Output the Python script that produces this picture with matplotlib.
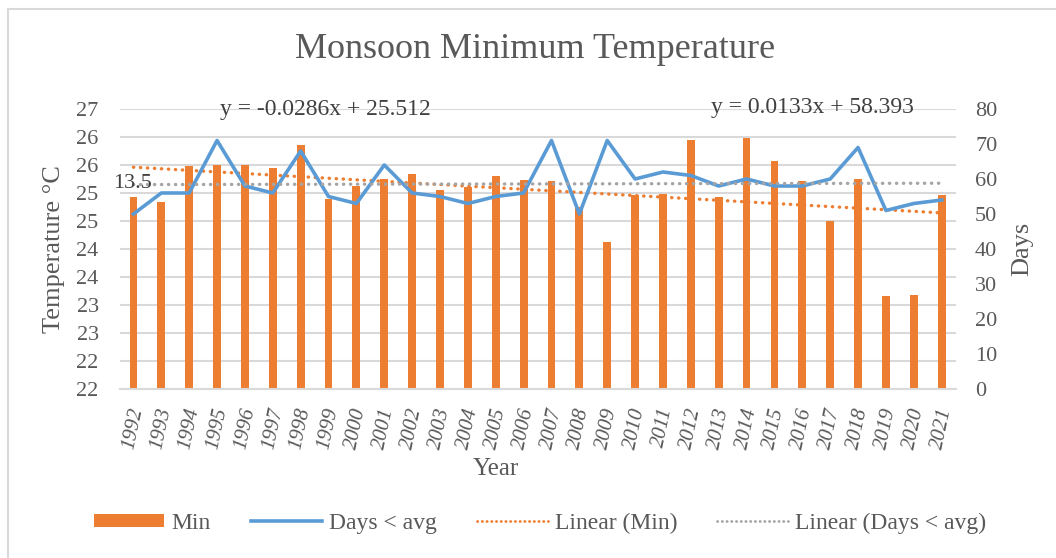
import numpy as np
import matplotlib
matplotlib.use("Agg")
import matplotlib.pyplot as plt
from matplotlib.patches import Patch, Rectangle
from matplotlib.lines import Line2D

plt.rcParams['font.family'] = ['Liberation Serif', 'DejaVu Serif']

# data
years = [str(y) for y in range(1992, 2022)]
min_temp = [25.43, 25.34, 25.98, 26.00, 26.00, 25.94, 26.35, 25.39, 25.63, 25.75,
            25.84, 25.55, 25.61, 25.80, 25.73, 25.71, 25.25, 24.63, 25.46, 25.49,
            26.44, 25.43, 26.49, 26.08, 25.71, 25.00, 25.75, 23.66, 23.68, 25.46]
days_below = [50, 56, 56, 71, 58, 56, 68, 55, 53, 64, 56, 55, 53, 55, 56,
              71, 50, 71, 60, 62, 61, 58, 60, 58, 58, 60, 69, 51, 53, 54]
left_ticks = [22, 22.5, 23, 23.5, 24, 24.5, 25, 25.5, 26, 26.5, 27]
left_tick_labels = ['22', '22', '23', '23', '24', '24', '25', '25', '26', '26', '27']
right_ticks = [0, 10, 20, 30, 40, 50, 60, 70, 80]
eq_min = 'y = -0.0286x + 25.512'
eq_days = 'y = 0.0133x + 58.393'
data_label = '13.5'

orange = '#ed7d31'
blue = '#5b9bd5'
gray = '#a5a5a5'
txt = '#595959'
grid = '#d9d9d9'

W, H = 1056, 558
fig = plt.figure(figsize=(W / 100, H / 100), dpi=100)
fig.patches.append(Rectangle((8 / W, -0.1), 1.2, 1 - 9 / H + 0.1, transform=fig.transFigure,
                             fill=False, edgecolor=grid, linewidth=1.5))

x0, x1, y0, y1 = 119.5, 955.6, 109, 389
ax = fig.add_axes([x0 / W, 1 - y1 / H, (x1 - x0) / W, (y1 - y0) / H])
x = np.arange(len(years))

ax.bar(x, min_temp, width=0.28, color=orange, zorder=2)
fit1 = np.polyfit(x, min_temp, 1)
ax.plot(x, np.polyval(fit1, x), color=orange, linewidth=2.4,
        linestyle=(0, (0.1, 2.0)), dash_capstyle='round', zorder=3)
ax.set_ylim(22, 27)
ax.set_xlim(-0.5, len(years) - 0.5)
ax.set_yticks(left_ticks)
ax.set_yticklabels(left_tick_labels)
ax.yaxis.grid(True, color=grid, linewidth=1.5)
ax.set_axisbelow(True)
for s in ['top', 'left', 'right']:
    ax.spines[s].set_visible(False)
ax.spines['bottom'].set_color(grid)
ax.spines['bottom'].set_linewidth(1.5)
ax.tick_params(axis='y', length=0, pad=15, labelsize=16, labelcolor=txt)
ax.set_xticks(x)
ax.set_xticklabels(years, rotation=78, style='italic', ha='center', va='top')
ax.tick_params(axis='x', length=0, pad=12, labelsize=15, labelcolor=txt)
ax.set_ylabel('Temperature °C', fontsize=19, color=txt, labelpad=8)

ax2 = ax.twinx()
ax2.plot(x, days_below, color=blue, linewidth=2.6, zorder=3)
fit2 = np.polyfit(x, days_below, 1)
ax2.plot(x, np.polyval(fit2, x), color=gray, linewidth=2.4,
         linestyle=(0, (0.1, 2.0)), dash_capstyle='round', zorder=4)
ax2.set_ylim(0, 80)
ax2.set_yticks(right_ticks)
for s in ['top', 'left', 'right', 'bottom']:
    ax2.spines[s].set_visible(False)
ax2.tick_params(axis='y', length=0, pad=14, labelsize=16, labelcolor=txt)
ax2.set_ylabel('Days', fontsize=19, color=txt, labelpad=10)

fig.text(535 / W, 1 - 50 / H, 'Monsoon Minimum Temperature', ha='center', va='center',
         fontsize=26, color=txt)
fig.text(496 / W, 1 - 469 / H, 'Year', ha='center', va='center', fontsize=18, color=txt)
fig.text(325 / W, 1 - 109 / H, eq_min, ha='center', va='center', fontsize=17, color='#404040')
fig.text(812 / W, 1 - 107 / H, eq_days, ha='center', va='center', fontsize=17, color='#404040')
fig.text(133 / W, 1 - 184 / H, data_label, ha='center', va='center', fontsize=16, color='#404040')

handles = [Patch(facecolor=orange),
           Line2D([], [], color=blue, linewidth=2.6),
           Line2D([], [], color=orange, linewidth=2, linestyle=(0, (0.1, 1.6)), dash_capstyle='round'),
           Line2D([], [], color=gray, linewidth=2, linestyle=(0, (0.1, 1.6)), dash_capstyle='round')]
labels = ['Min', 'Days < avg', 'Linear (Min)', 'Linear (Days < avg)']
leg = fig.legend(handles, labels, loc='center', bbox_to_anchor=(540 / W, 1 - 523 / H), ncol=4,
                 frameon=False, fontsize=17, handlelength=3.0, handleheight=0.45,
                 handletextpad=0.3, columnspacing=1.7)
for t in leg.get_texts():
    t.set_color(txt)

fig.savefig('out.png', dpi=100)
